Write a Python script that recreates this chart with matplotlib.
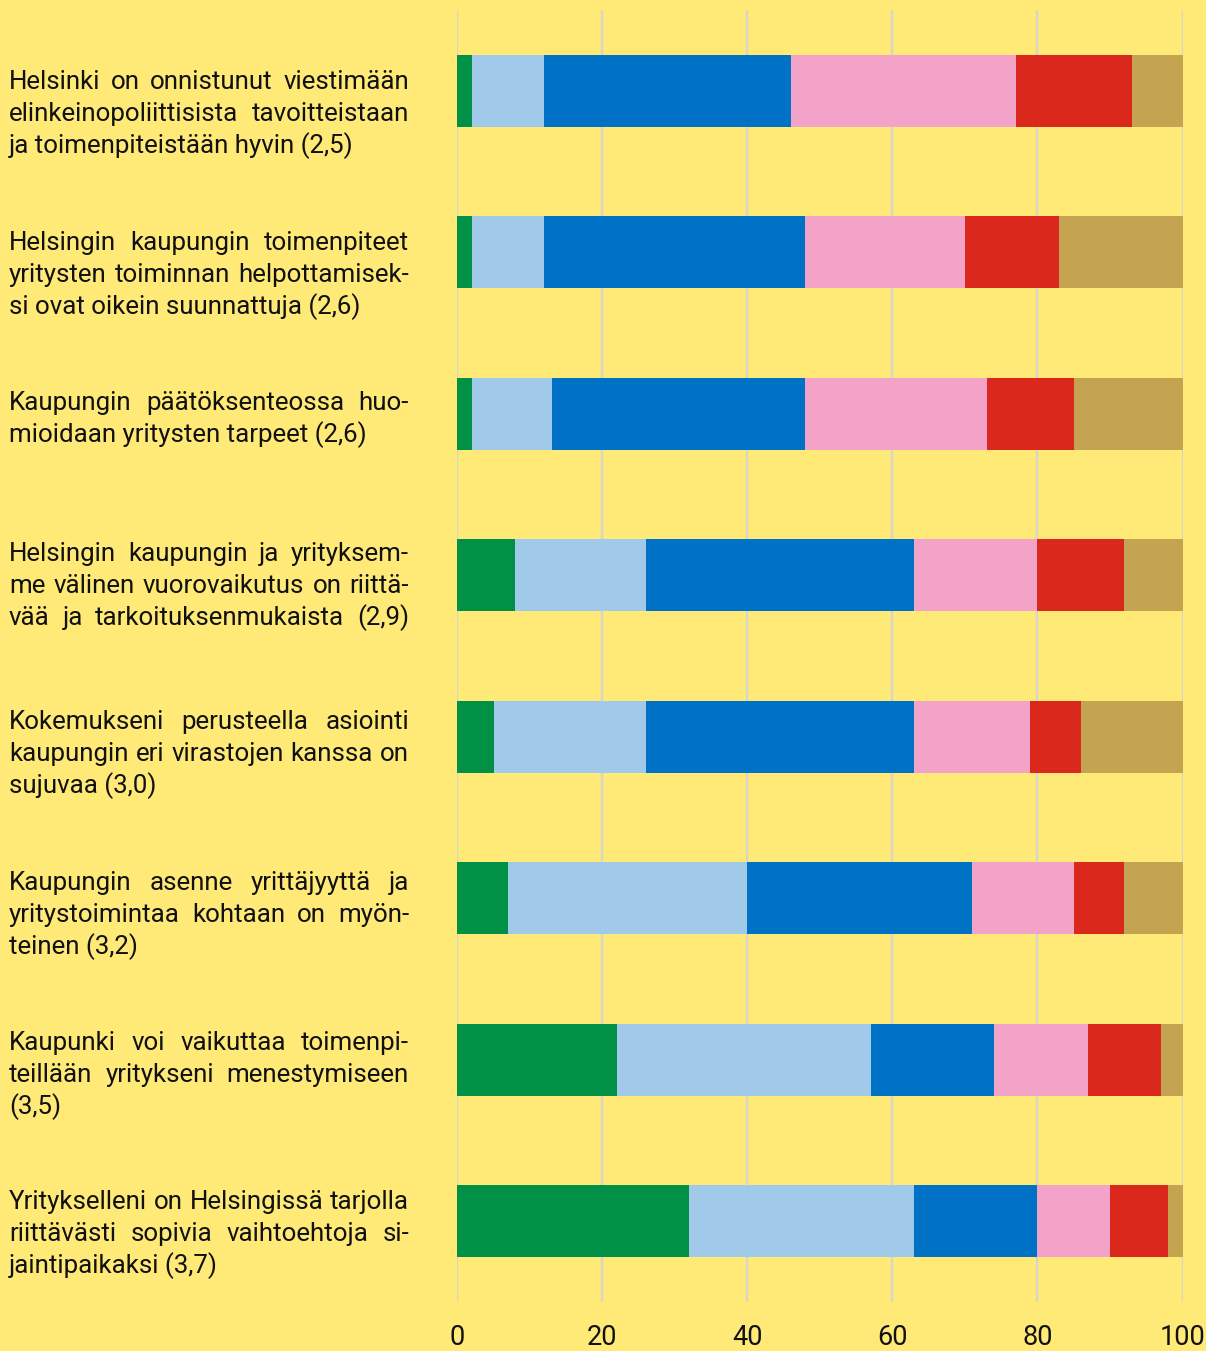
import matplotlib
matplotlib.use("Agg")
import matplotlib.pyplot as plt
import numpy as np

# ---------------- data ----------------
label_lines = [
    ["Helsinki on onnistunut viestimään", "elinkeinopoliittisista tavoitteistaan", "ja toimenpiteistään hyvin (2,5)"],
    ["Helsingin kaupungin toimenpiteet", "yritysten toiminnan helpottamisek-", "si ovat oikein suunnattuja (2,6)"],
    ["Kaupungin päätöksenteossa huo-", "mioidaan yritysten tarpeet (2,6)"],
    ["Helsingin kaupungin ja yrityksem-", "me välinen vuorovaikutus on riittä-", "vää ja tarkoituksenmukaista (2,9)"],
    ["Kokemukseni perusteella asiointi", "kaupungin eri virastojen kanssa on", "sujuvaa (3,0)"],
    ["Kaupungin asenne yrittäjyyttä ja", "yritystoimintaa kohtaan on myön-", "teinen (3,2)"],
    ["Kaupunki voi vaikuttaa toimenpi-", "teillään yritykseni menestymiseen", "(3,5)"],
    ["Yritykselleni on Helsingissä tarjolla", "riittävästi sopivia vaihtoehtoja si-", "jaintipaikaksi (3,7)"],
]
s1_green = [2, 2, 2, 8, 5, 7, 22, 32]
s2_lightblue = [10, 10, 11, 18, 21, 33, 35, 31]
s3_blue = [34, 36, 35, 37, 37, 31, 17, 17]
s4_pink = [31, 22, 25, 17, 16, 14, 13, 10]
s5_red = [16, 13, 12, 12, 7, 7, 10, 8]
s6_tan = [7.3, 17, 15, 8, 14.3, 8, 3, 2.3]
x_ticks = [0, 20, 40, 60, 80, 100]

series = [s1_green, s2_lightblue, s3_blue, s4_pink, s5_red, s6_tan]
colors = ["#009046", "#A0C9EA", "#0072C6", "#F4A3C8", "#DA291C", "#C4A351"]
BG = "#FFE977"

W, H = 1206, 1351
DPI = 100
fig = plt.figure(figsize=(W / DPI, H / DPI), dpi=DPI, facecolor=BG)
ax = fig.add_axes([457.3 / W, 1 - 1302 / H, (1182.5 - 457.3) / W, (1302 - 10) / H])
ax.set_facecolor(BG)

n = len(label_lines)
y = np.arange(n)
left = np.zeros(n)
for vals, c in zip(series, colors):
    ax.barh(y, vals, left=left, height=0.446, color=c, edgecolor="none", zorder=3)
    left += np.array(vals)

ax.set_xlim(0, 100)
ax.set_ylim(n - 0.5, -0.5)
ax.set_xticks(x_ticks)
ax.set_xticklabels([str(t) for t in x_ticks])
ax.set_yticks([])
ax.grid(axis="x", color="#D6D6CE", linewidth=1.6, zorder=0)
ax.grid(axis="y", visible=False)
for sp in ax.spines.values():
    sp.set_visible(False)
FONT = "Roboto"
ax.tick_params(axis="x", length=0, pad=15.5, labelsize=19.5, labelcolor="#111111")
for t in ax.get_xticklabels():
    t.set_fontfamily(FONT)

# ---------------- justified labels ----------------
first_line_y = [82, 243, 403, 554, 722, 883, 1043, 1202]
line_gap = 32
x_left, x_right = 9, 409
target = x_right - x_left
justify_last = {3}  # paragraphs whose last line is also stretched

renderer = fig.canvas.get_renderer()


def measure(s, fs):
    t = fig.text(0, 0, s, fontsize=fs, family=FONT)
    w = t.get_window_extent(renderer).width
    t.remove()
    return w

fs = 20
widest = max(measure(l, fs) for lines in label_lines for l in lines)
if widest > target:
    fs = fs * target / widest * 0.995

for k, (lines, y0) in enumerate(zip(label_lines, first_line_y)):
    for i, line in enumerate(lines):
        yy = 1 - (y0 + i * line_gap) / H
        last = i == len(lines) - 1
        words = line.split(" ")
        if (not last or k in justify_last) and len(words) > 1:
            ws = [measure(w, fs) for w in words]
            gap = (target - sum(ws)) / (len(words) - 1)
            x = x_left
            for w, wd in zip(words, ws):
                fig.text(x / W, yy, w, fontsize=fs, family=FONT, color="#111111",
                         ha="left", va="center")
                x += wd + gap
        else:
            fig.text(x_left / W, yy, line, fontsize=fs, family=FONT, color="#111111",
                     ha="left", va="center")

fig.savefig("out.png", dpi=DPI, facecolor=BG)
